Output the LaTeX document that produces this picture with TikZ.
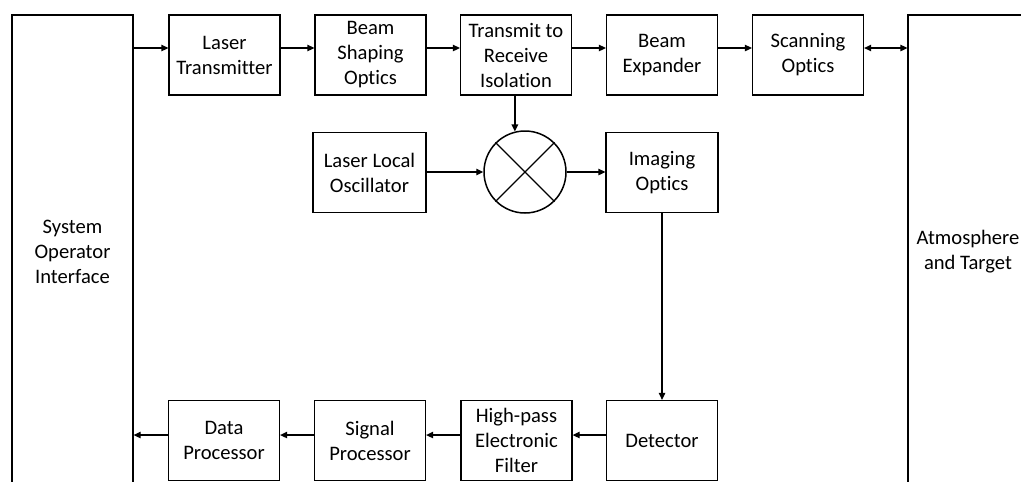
\documentclass[tikz,border=0pt]{standalone}
\usepackage{fontspec}
\setmainfont{Carlito}[Ligatures=CommonOff]
\usetikzlibrary{arrows.meta}
\begin{document}
\begin{tikzpicture}[x=1pt,y=-1pt,
  blk/.style={draw, line width=1.3pt, minimum width=111pt, minimum height=80pt,
    inner sep=0pt, align=center, font=\fontsize{20.6}{25}\selectfont},
  tall/.style={draw, line width=1.3pt, inner sep=0pt},
  txt/.style={align=center, inner sep=0pt, font=\fontsize{20.6}{25}\selectfont},
  arr/.style={line width=1.3pt, -{Triangle[length=7pt,width=6.5pt]}},
  darr/.style={line width=1.3pt, {Triangle[length=7pt,width=6.5pt]}-{Triangle[length=7pt,width=6.5pt]}}]
\useasboundingbox (0,0) rectangle (1021,482);
\clip (0,0) rectangle (1021,482);

% side blocks that run past the lower and right edges
\node[tall, minimum width=121pt, minimum height=520pt] (sys) at (72.5,275) {};
\node[txt] (syslbl) at (72.5,252) {System\\Operator\\Interface};
\node[tall, minimum width=130pt, minimum height=520pt] (env) at (973,275) {};
\node[txt] (envlbl) at (968,252) {Atmosphere\\and Target};

% transmit chain
\node[blk] (lt)  at (224.5,55) {Laser\\Transmitter};
\node[blk] (bso) at (370.5,55) {Beam\\Shaping\\Optics};
\node[blk] (iso) at (516,55)   {Transmit to\\Receive\\Isolation};
\node[blk] (be)  at (662,55)   {Beam\\Expander};
\node[blk] (so)  at (808,55)   {Scanning\\Optics};

% heterodyne mixing
\node[blk, minimum width=113pt] (llo) at (369.5,172.5) {Laser Local\\Oscillator};
\node[draw, circle, line width=1.5pt, minimum size=82pt, inner sep=0pt] (mix) at (525,172) {};
\draw[line width=1.4pt] (mix.45) -- (mix.225) (mix.135) -- (mix.315);
\node[blk, minimum width=112pt] (img) at (662,172.5) {Imaging\\Optics};

% receive chain
\node[blk] (det) at (662,440.5)   {Detector};
\node[blk] (hp)  at (516.5,440.5) {High-pass\\Electronic\\Filter};
\node[blk] (sp)  at (370,440.5)   {Signal\\Processor};
\node[blk] (dp)  at (224,440.5)   {Data\\Processor};

% connector rows
\coordinate (rowT) at (0,48);
\coordinate (rowB) at (0,435);

\draw[arr] (sys.east |- rowT) -- (lt.west |- rowT);
\draw[arr] (lt.east |- rowT) -- (bso.west |- rowT);
\draw[arr] (bso.east |- rowT) -- (iso.west |- rowT);
\draw[arr] (iso.east |- rowT) -- (be.west |- rowT);
\draw[arr] (be.east |- rowT) -- (so.west |- rowT);
\draw[darr] (so.east |- rowT) -- (env.west |- rowT);

\draw[arr] (iso.south -| mix.104.5) -- (mix.104.5);
\draw[arr] (llo.east |- mix.west) -- (mix.west);
\draw[arr] (mix.east) -- (img.west |- mix.east);
\draw[arr] (img.south) -- (det.north);

\draw[arr] (det.west |- rowB) -- (hp.east |- rowB);
\draw[arr] (hp.west |- rowB) -- (sp.east |- rowB);
\draw[arr] (sp.west |- rowB) -- (dp.east |- rowB);
\draw[arr] (dp.west |- rowB) -- (sys.east |- rowB);
\end{tikzpicture}
\end{document}
